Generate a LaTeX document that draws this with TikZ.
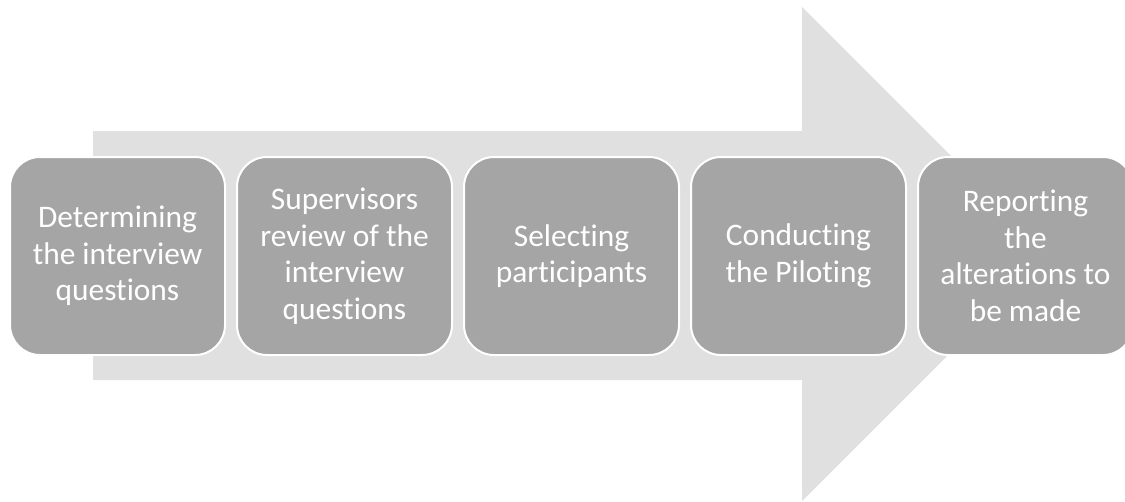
\documentclass[tikz,border=0pt]{standalone}
\usepackage{fontspec}
\setmainfont{Carlito}[RawFeature=-liga]
\usetikzlibrary{positioning}
\definecolor{fondgris}{HTML}{E0E0E0}
\definecolor{boitegris}{HTML}{A5A5A5}
\tikzset{
	etape/.style={draw=white, line width=2pt, fill=boitegris, rounded corners=30pt,
		minimum width=215pt, minimum height=198pt, text=white, align=center,
		font=\fontsize{31.4}{36.5}\selectfont, inner sep=0pt}
}
\begin{document}
\begin{tikzpicture}[x=1pt,y=-1pt]
	\useasboundingbox (0,0) rectangle (1125,501);
	% la grande fleche
	\fill[fondgris] (93,131) -- (802,131) -- (802,7) -- (1049,254) -- (802,501) -- (802,380) -- (93,380) -- cycle;
	% les etapes
	\node[etape] (det) at (117.5,256) {Determining\\the interview\\questions};
	\node[etape, right=10pt of det] (sup) {Supervisors\\review of the\\interview\\questions};
	\node[etape, right=10pt of sup] (sel) {Selecting\\participants};
	\node[etape, right=10pt of sel] (pil) {Conducting\\the Piloting};
	\node[etape, right=10pt of pil] (rep) {Reporting\\the\\alterations to\\be made};
\end{tikzpicture}
\end{document}
